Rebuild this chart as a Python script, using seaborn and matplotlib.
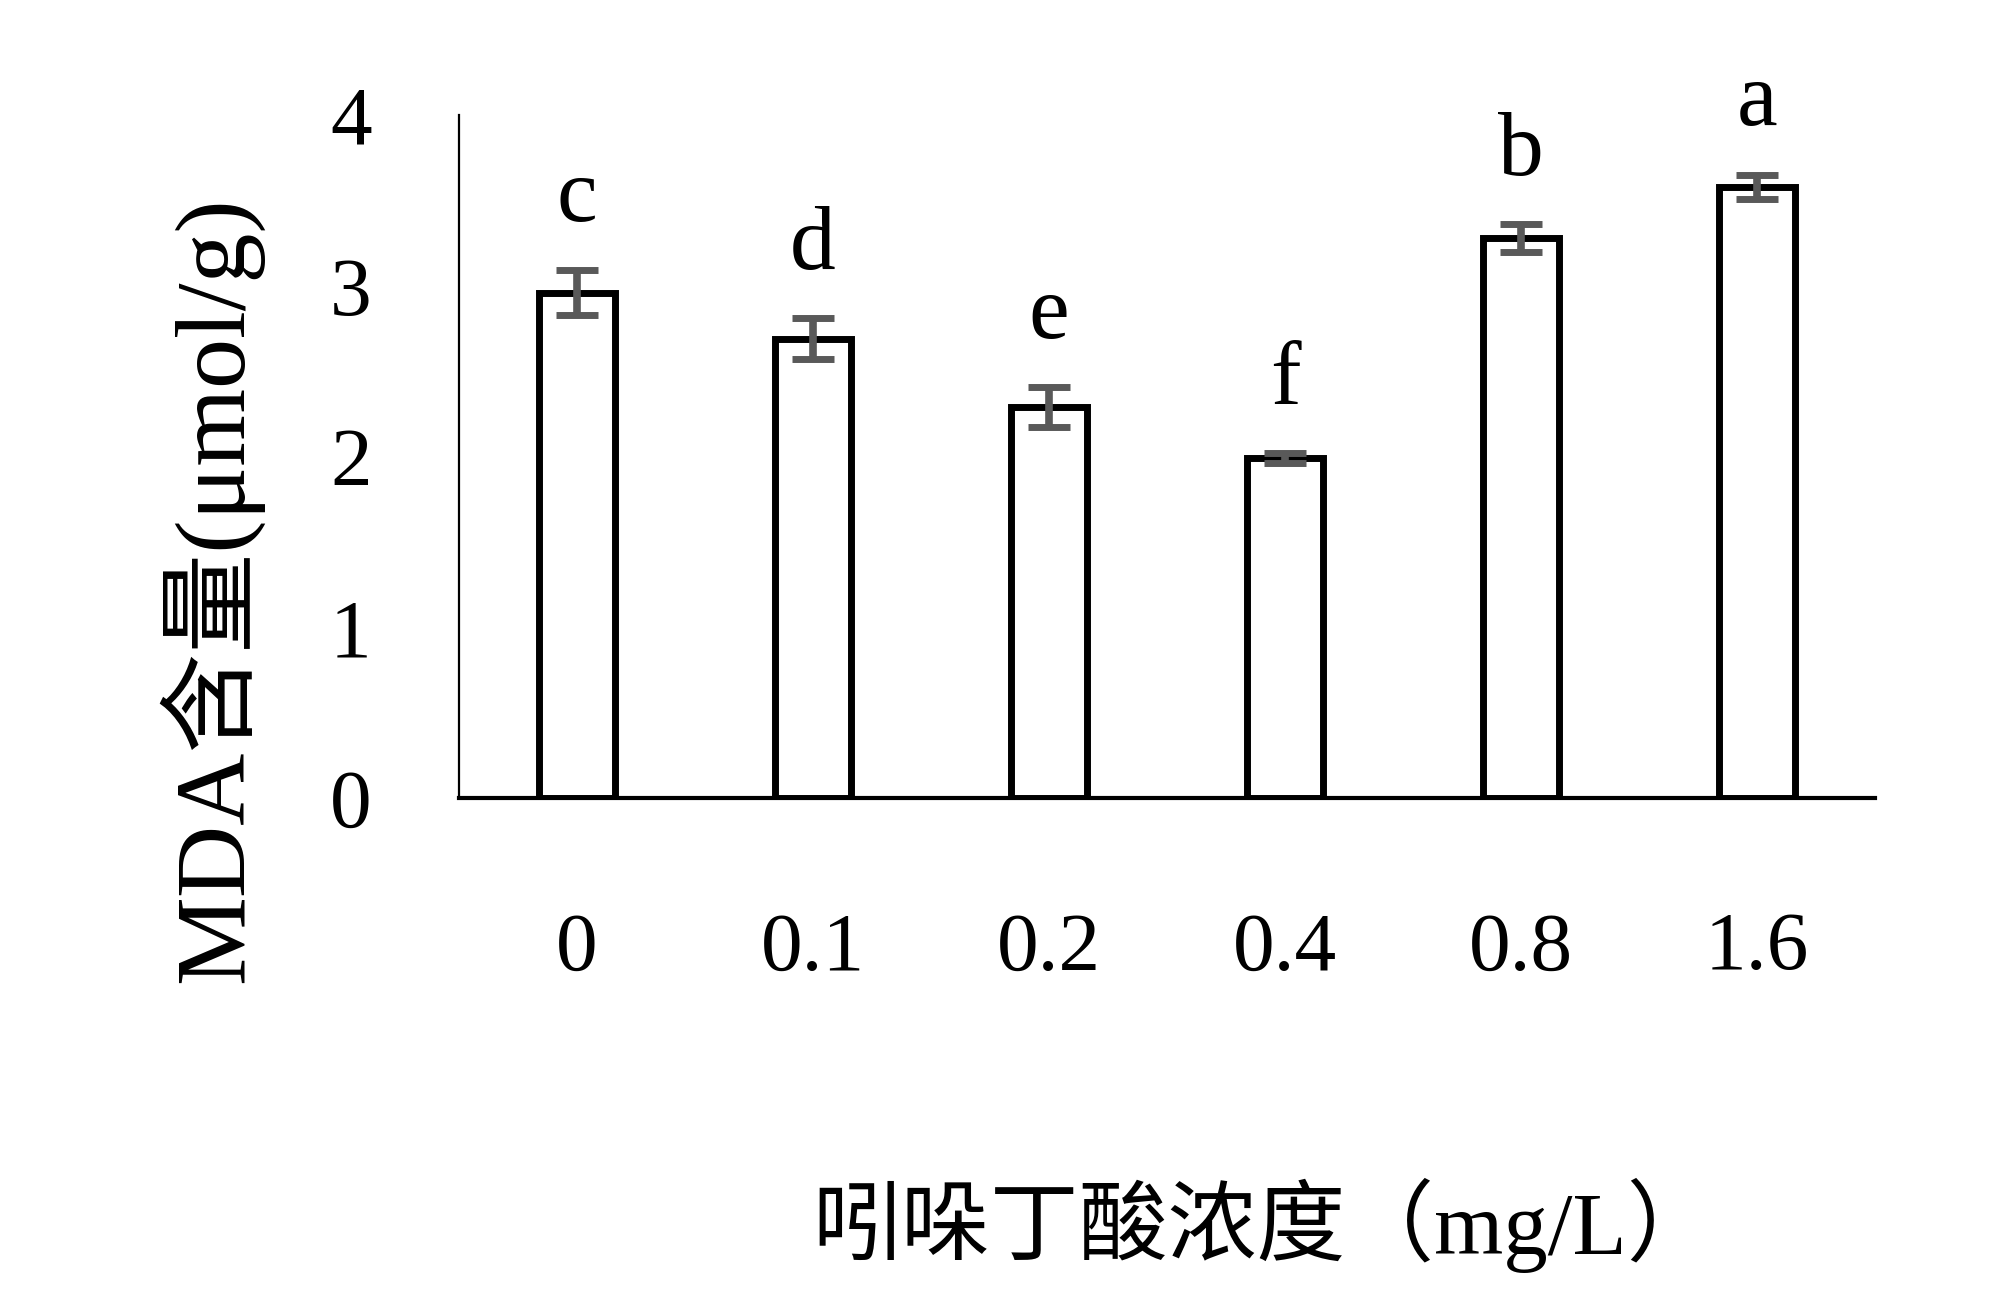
import numpy as np
import pandas as pd
import matplotlib
matplotlib.use("Agg")
import matplotlib.pyplot as plt
import seaborn as sns

conc = ["0", "0.1", "0.2", "0.4", "0.8", "1.6"]
mda = [2.96, 2.69, 2.29, 1.99, 3.28, 3.58]
err = [0.13, 0.12, 0.115, 0.03, 0.08, 0.07]
letters = ["c", "d", "e", "f", "b", "a"]

df = pd.DataFrame({"conc": conc, "mda": mda, "err": err})

sns.set_style("white")
serif = ["Liberation Serif", "Noto Sans CJK SC"]
plt.rcParams["font.family"] = serif
plt.rcParams["text.color"] = "black"
plt.rcParams["xtick.color"] = "black"
plt.rcParams["ytick.color"] = "black"

fig = plt.figure(figsize=(20, 13.1), dpi=100)
ax = fig.add_axes([0.2295, 0.3908, 0.708, 0.5214])

sns.barplot(data=df, x="conc", y="mda", ax=ax, width=0.32, color="white",
            edgecolor="black", linewidth=5, errorbar=None)
ax.errorbar(np.arange(len(conc)), df["mda"], yerr=df["err"], fmt="none",
            ecolor="#595959", elinewidth=5.5, capsize=15, capthick=5)

for i, (m, e, lab) in enumerate(zip(mda, err, letters)):
    ax.text(i, m + e + 0.29, lab, ha="center", va="baseline", fontsize=66,
            family="Liberation Serif", color="black")

ax.set_xlim(-0.5, 5.5)
ax.set_ylim(0, 4)
ax.set_yticks([0, 1, 2, 3, 4])
ax.set_xlabel("")
ax.set_ylabel("")
ax.tick_params(axis="y", length=0, pad=63, labelsize=60, labelcolor="black")
ax.tick_params(axis="x", length=0, pad=82, labelsize=60, labelcolor="black")
for s in ["top", "right"]:
    ax.spines[s].set_visible(False)
ax.spines["left"].set_linewidth(1.6)
ax.spines["bottom"].set_linewidth(3)
ax.spines["left"].set_color("black")
ax.spines["bottom"].set_color("black")

fig.text(210 / 2000, 1 - 590 / 1310, "MDA含量(μmol/g)", rotation=90,
         ha="center", va="center", fontsize=72, family=serif, color="black")
fig.text(1264 / 2000, 1 - 1225 / 1310, "吲哚丁酸浓度（mg/L）",
         ha="center", va="center", fontsize=64, family=serif, color="black")

fig.savefig("out.png", dpi=100, facecolor="white")
